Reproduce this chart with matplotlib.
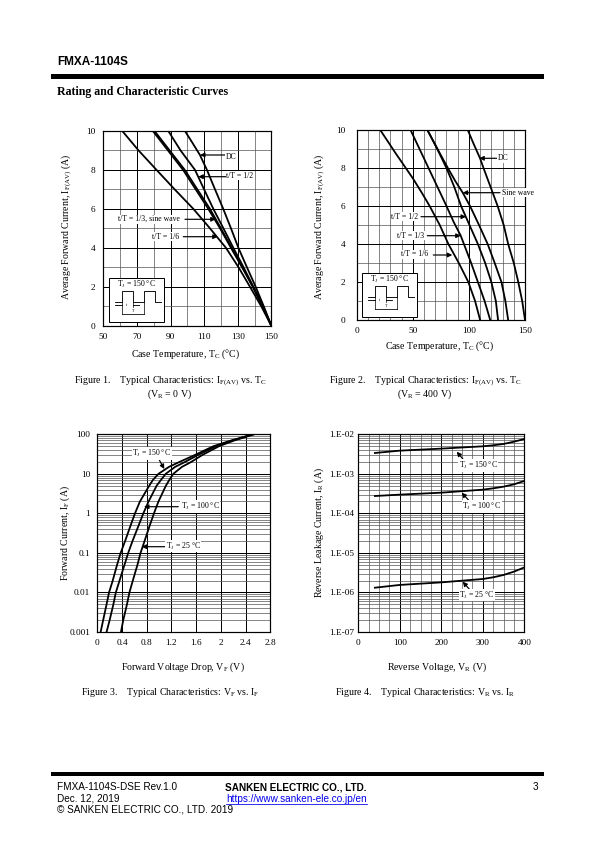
import numpy as np
import matplotlib
matplotlib.use('Agg')
import matplotlib.pyplot as plt
from matplotlib.lines import Line2D
from matplotlib.patches import Rectangle, FancyArrowPatch
from matplotlib.ticker import LogLocator, NullFormatter

plt.rcParams['font.family'] = ['Liberation Serif', 'DejaVu Serif']
plt.rcParams['mathtext.fontset'] = 'custom'
plt.rcParams['mathtext.rm'] = 'Liberation Serif'
plt.rcParams['mathtext.it'] = 'Liberation Serif:italic'
plt.rcParams['mathtext.bf'] = 'Liberation Serif:bold'
plt.rcParams['mathtext.default'] = 'regular'

W, H = 595, 842
FS = 9.3     # tick labels
LS = 9.9     # axis labels and captions
NS = 7.7     # curve notes

# Figure 1: IF(AV) vs Tc, VR = 0 V
f1_dc_t = [98.6, 103, 107.5, 111.7, 116.5, 121.4, 126, 130.4, 135.5, 140.7, 145.5, 150]
f1_dc_i = [10, 9.4, 8.77, 8, 7, 6, 5, 4, 3, 2, 1, 0]
f1_h_t = [88.7, 96, 104.6, 110, 115.5, 121.5, 127.4, 133.5, 139.3, 145, 150]
f1_h_i = [10, 9, 8, 7, 6, 5, 4, 3, 2, 1, 0]
f1_t3_t = [80.5, 89.5, 98.5, 106, 113.5, 120, 126.4, 132.8, 138.9, 144.8, 150]
f1_t3_i = [10, 9, 8, 7, 6, 5, 4, 3, 2, 1, 0]
f1_s_t = [79.5, 88.5, 97.5, 105, 112.5, 119.5, 126, 132.6, 139.2, 145, 150]
f1_s_i = [10, 9, 8, 7, 6, 5, 4, 3, 2, 1, 0]
f1_t6_t = [61.3, 71, 81.7, 92.5, 103.6, 113.5, 123, 130.5, 137.3, 144, 150]
f1_t6_i = [10, 9, 8, 7, 6, 5, 4, 3, 2, 1, 0]

# Figure 2: IF(AV) vs Tc, VR = 400 V
f2_dc_t = [99, 104, 110, 113, 119, 125.6, 131, 135, 140, 144, 147.5, 150]
f2_dc_i = [10, 9.3, 8.5, 8, 7.05, 6, 5, 4, 3, 2, 1, 0]
f2_sin_t = [63, 72, 81.7, 88, 94.5, 101, 109, 116.7, 123, 129, 132.5, 135]
f2_sin_i = [10, 9, 7.95, 7.3, 6.7, 6, 5, 4, 3, 2, 1, 0]
f2_h_t = [63, 71, 80, 87, 93, 100.5, 108, 114.5, 120, 124, 126]
f2_h_i = [10, 9.1, 8, 7, 6, 5, 4, 3, 2, 1, 0]
f2_t3_t = [48, 56, 64, 72, 80, 86.5, 92.7, 102, 108, 114, 119]
f2_t3_i = [10, 9, 8, 7, 6, 5.15, 4.44, 3, 2, 1, 0]
f2_t6_t = [21, 35, 50, 58, 65, 74, 81.7, 91, 99.5, 105.5, 110]
f2_t6_i = [10, 8.75, 7.46, 6.7, 6, 5, 4, 3, 2, 1, 0]

# Figure 3: VF vs IF
f3_if = [0.001, 0.002, 0.005, 0.01, 0.02, 0.05, 0.1, 0.2, 0.5, 1, 2, 5, 7, 10, 15, 20, 30, 50, 70, 100]
f3_v150 = [0.054, 0.095, 0.15, 0.19, 0.25, 0.32, 0.378, 0.45, 0.54, 0.61, 0.69, 0.84, 0.90, 0.99, 1.16, 1.33, 1.58, 1.88, 2.17, 2.52]
f3_v100 = [0.15, 0.2, 0.26, 0.30, 0.36, 0.44, 0.50, 0.57, 0.67, 0.745, 0.83, 0.96, 1.03, 1.107, 1.26, 1.42, 1.63, 1.92, 2.19, 2.52]
f3_v25 = [0.383, 0.42, 0.48, 0.52, 0.575, 0.65, 0.70, 0.765, 0.85, 0.917, 0.99, 1.11, 1.165, 1.23, 1.37, 1.52, 1.70, 1.97, 2.22, 2.54]

# Figure 4: VR vs IR
f4_vr = [40, 100, 200, 300, 325, 350, 375, 400]
f4_i150 = [3.37e-3, 3.86e-3, 4.34e-3, 4.97e-3, 5.27e-3, 5.7e-3, 6.5e-3, 7.6e-3]
f4_i100 = [2.75e-4, 2.98e-4, 3.34e-4, 3.98e-4, 4.3e-4, 4.74e-4, 5.43e-4, 6.6e-4]
f4_i25 = [1.32e-6, 1.55e-6, 1.8e-6, 2.19e-6, 2.42e-6, 2.77e-6, 3.36e-6, 4.3e-6]

fig = plt.figure(figsize=(W / 72, H / 72), dpi=72)


def fx(x):
    return x / W


def fy(y):
    return 1 - y / H


def txt(x, y, s, **kw):
    kw.setdefault('fontsize', LS)
    kw.setdefault('va', 'center')
    return fig.text(fx(x), fy(y), s, **kw)


def make_ax(box, xpad, ypad):
    left, right, top, bottom = box
    ax = fig.add_axes([fx(left), fy(bottom), (right - left) / W, (bottom - top) / H])
    ax.set_axisbelow(True)
    ax.grid(True, which='major', color='black', lw=1.0)
    ax.grid(True, which='minor', color='#555555', lw=0.7)
    ax.tick_params(which='both', length=0, labelsize=FS)
    ax.tick_params(axis='x', which='major', pad=xpad)
    ax.tick_params(axis='y', which='major', pad=ypad)
    for s in ax.spines.values():
        s.set_linewidth(1.2)
    return ax


def set_labels(ax, box, xlab, xpos, ylab, ypos):
    left, right, top, bottom = box
    ax.set_xlabel(xlab, fontsize=LS, va='center', ha='center')
    ax.set_ylabel(ylab, fontsize=LS, va='center', ha='center')
    ax.xaxis.set_label_coords((xpos[0] - left) / (right - left), (bottom - xpos[1]) / (bottom - top))
    ax.yaxis.set_label_coords((ypos[0] - left) / (right - left), (bottom - ypos[1]) / (bottom - top))


def note(s, tx, ty, x0, y0, x1, y1):
    fig.text(fx(tx), fy(ty), s, fontsize=NS, ha='center', va='center', zorder=6,
             bbox=dict(fc='white', ec='none', pad=0.6))
    fig.add_artist(FancyArrowPatch((fx(x0), fy(y0)), (fx(x1), fy(y1)), transform=fig.transFigure,
                                   arrowstyle='-|>', mutation_scale=9, lw=1.2, color='black',
                                   shrinkA=0, shrinkB=0, zorder=6))


def pulse_box(x, y):
    # small duty cycle sketch in the corner of fig 1 and 2
    fig.add_artist(Rectangle((fx(x), fy(y + 43.5)), 55 / W, 43.5 / H, transform=fig.transFigure,
                             fc='white', ec='black', lw=1.0, zorder=5))
    txt(x + 27.5, y + 6.5, r'T$_{J}$ = 150 °C', fontsize=NS, ha='center', zorder=7)

    def seg(xs, ys, lw=0.9):
        fig.add_artist(Line2D([fx(x + a) for a in xs], [fy(y + b) for b in ys], color='black',
                              lw=lw, zorder=6, transform=fig.transFigure))
    seg([5.7, 12.3, 12.3, 24, 24, 35, 35, 46, 46, 51.3], [23.3, 23.3, 12.7, 12.7, 23.3, 23.3, 12.7, 12.7, 23.3, 23.3])
    seg([5.7, 12.3], [26.7, 26.7])
    seg([24, 30], [26.7, 26.7])
    seg([12.3, 12.3], [23.3, 36], 0.7)
    seg([24, 24], [23.3, 29], 0.7)
    seg([35, 35], [23.3, 36], 0.7)
    seg([12.3, 35], [36, 36], 0.8)
    txt(x + 17.5, y + 26.5, 't', fontsize=4, ha='center', zorder=7)
    txt(x + 23.5, y + 32.5, 'T', fontsize=4, ha='center', zorder=7)


curve = dict(color='black', lw=1.8, solid_joinstyle='round')

# Figure 1
box1 = (103.3, 271.3, 131, 325.7)
ax1 = make_ax(box1, 7, 8)
ax1.plot(f1_dc_t, f1_dc_i, **curve)
ax1.plot(f1_h_t, f1_h_i, **curve)
ax1.plot(f1_t3_t, f1_t3_i, **curve)
ax1.plot(f1_s_t, f1_s_i, **curve)
ax1.plot(f1_t6_t, f1_t6_i, **curve)
ax1.set_xlim(50, 150)
ax1.set_ylim(0, 10)
ax1.set_xticks(np.arange(50, 151, 20))
ax1.set_xticks(np.arange(60, 150, 20), minor=True)
ax1.set_yticks(np.arange(0, 11, 2))
ax1.set_yticks(np.arange(1, 10, 2), minor=True)
set_labels(ax1, box1, r'Case Temperature, T$_{C}$ (°C)', (186, 354),
           r'Average Forward Current, I$_{F(AV)}$ (A)', (66.7, 226.7))
note('DC', 231, 156.7, 225, 155, 200, 155)
note('t/T = 1/2', 240, 175.7, 226, 176.7, 198.3, 176.7)
note('t/T = 1/3, sine wave', 149.3, 219.3, 185, 219.3, 215.7, 219.3)
note('t/T = 1/6', 165.7, 236.7, 183.3, 236.7, 217.7, 236.7)
pulse_box(109.3, 278.3)

# Figure 2
box2 = (356.7, 525, 130, 320)
ax2 = make_ax(box2, 7, 11)
ax2.plot(f2_dc_t, f2_dc_i, **curve)
ax2.plot(f2_sin_t, f2_sin_i, **curve)
ax2.plot(f2_h_t, f2_h_i, **curve)
ax2.plot(f2_t3_t, f2_t3_i, **curve)
ax2.plot(f2_t6_t, f2_t6_i, **curve)
ax2.set_xlim(0, 150)
ax2.set_ylim(0, 10)
ax2.set_xticks(np.arange(0, 151, 50))
ax2.set_xticks(np.arange(0, 151, 10), minor=True)
ax2.set_yticks(np.arange(0, 11, 2))
ax2.set_yticks(np.arange(1, 10, 2), minor=True)
set_labels(ax2, box2, r'Case Temperature, T$_{C}$ (°C)', (440, 346.7),
           r'Average Forward Current, I$_{F(AV)}$ (A)', (320, 226.7))
note('DC', 502.7, 158.3, 496.7, 158.3, 479.3, 158.3)
note('Sine wave', 517.7, 192.7, 500, 192.7, 462.7, 192.7)
note('t/T = 1/2', 405, 216.7, 421, 216.7, 466, 216.7)
note('t/T = 1/3', 410.7, 235.7, 427.3, 235.7, 460.7, 235.7)
note('t/T = 1/6', 415, 254.3, 433.3, 255, 452.3, 255)
pulse_box(362.3, 273.3)

# Figure 3
box3 = (97.3, 270.3, 434.3, 632)
ax3 = make_ax(box3, 7, 7)
ax3.plot(f3_v150, f3_if, **curve)
ax3.plot(f3_v100, f3_if, **curve)
ax3.plot(f3_v25, f3_if, **curve)
ax3.set_yscale('log')
ax3.set_xlim(0, 2.8)
ax3.set_ylim(0.001, 100)
ax3.set_xticks(np.arange(0, 2.81, 0.4))
ax3.set_xticklabels(['0', '0.4', '0.8', '1.2', '1.6', '2', '2.4', '2.8'])
ax3.xaxis.set_minor_locator(plt.NullLocator())
ax3.set_yticks([0.001, 0.01, 0.1, 1, 10, 100])
ax3.set_yticklabels(['0.001', '0.01', '0.1', '1', '10', '100'])
ax3.yaxis.set_minor_locator(LogLocator(base=10, subs=np.arange(2, 10), numticks=12))
ax3.yaxis.set_minor_formatter(NullFormatter())
set_labels(ax3, box3, r'Forward Voltage Drop, V$_{F}$ (V)', (183, 667.7),
           r'Forward Current, I$_{F}$ (A)', (65.7, 533))
note(r'T$_{J}$ = 150 °C', 151.7, 453.3, 159.3, 460, 164.3, 469)
note(r'T$_{J}$ = 100 °C', 200, 506.7, 178.3, 506.7, 144, 506.7)
note(r'T$_{J}$ = 25 °C', 183.3, 546, 165, 546.7, 141.7, 546.7)

# Figure 4
box4 = (358.3, 524.3, 434.3, 632)
ax4 = make_ax(box4, 7, 4)
ax4.plot(f4_vr, f4_i150, **curve)
ax4.plot(f4_vr, f4_i100, **curve)
ax4.plot(f4_vr, f4_i25, **curve)
ax4.set_yscale('log')
ax4.set_xlim(0, 400)
ax4.set_ylim(1e-7, 1e-2)
ax4.set_xticks(np.arange(0, 401, 100))
ax4.set_xticks(np.arange(0, 401, 25), minor=True)
ax4.set_yticks([1e-7, 1e-6, 1e-5, 1e-4, 1e-3, 1e-2])
ax4.set_yticklabels(['1.E-07', '1.E-06', '1.E-05', '1.E-04', '1.E-03', '1.E-02'])
ax4.yaxis.set_minor_locator(LogLocator(base=10, subs=np.arange(2, 10), numticks=12))
ax4.yaxis.set_minor_formatter(NullFormatter())
set_labels(ax4, box4, r'Reverse Voltage, V$_{R}$ (V)', (437.3, 667.7),
           r'Reverse Leakage Current, I$_{R}$ (A)', (319, 532))
note(r'T$_{J}$ = 150 °C', 478.3, 465.7, 465.7, 462.3, 456.7, 451.7)
note(r'T$_{J}$ = 100 °C', 481.7, 506.7, 470, 501.7, 461.7, 492.7)
note(r'T$_{J}$ = 25 °C', 476.7, 595, 470.7, 590.7, 462.7, 581.7)

# Captions
txt(170, 381, r'Figure 1.    Typical Characteristics: I$_{F(AV)}$ vs. T$_{C}$', ha='center')
txt(170, 394, r'(V$_{R}$ = 0 V)', ha='center')
txt(425, 381, r'Figure 2.    Typical Characteristics: I$_{F(AV)}$ vs. T$_{C}$', ha='center')
txt(425, 394, r'(V$_{R}$ = 400 V)', ha='center')
txt(170, 692.7, r'Figure 3.    Typical Characteristics: V$_{F}$ vs. I$_{F}$', ha='center')
txt(425, 692.7, r'Figure 4.    Typical Characteristics: V$_{R}$ vs. I$_{R}$', ha='center')

# Header and footer
sans = ['Liberation Sans', 'DejaVu Sans']
txt(57, 62, 'FMXA-1104S', family=sans, fontsize=11.8, fontweight='bold')
txt(57, 92, 'Rating and Characteristic Curves', fontsize=11.9, fontweight='bold')
for ytop in (74.5, 772):
    fig.add_artist(Rectangle((fx(51), fy(ytop + 4)), 493 / W, 4 / H, transform=fig.transFigure,
                             fc='black', ec='none'))
txt(57, 787.3, 'FMXA-1104S-DSE Rev.1.0', family=sans, fontsize=10)
txt(57, 798.5, 'Dec. 12, 2019', family=sans, fontsize=10)
txt(57, 810, '© SANKEN ELECTRIC CO., LTD. 2019', family=sans, fontsize=10)
txt(225, 787.3, 'SANKEN ELECTRIC CO., LTD.', family=sans, fontsize=10, fontweight='bold')
txt(226, 798.5, 'https://www.sanken-ele.co.jp/en', family=sans, fontsize=10, color='#0000ee')
fig.add_artist(Line2D([fx(226), fx(367)], [fy(803.8), fy(803.8)], color='#0000ee', lw=0.8))
txt(533, 787.3, '3', family=sans, fontsize=10)

fig.savefig('out.png', dpi=72)
